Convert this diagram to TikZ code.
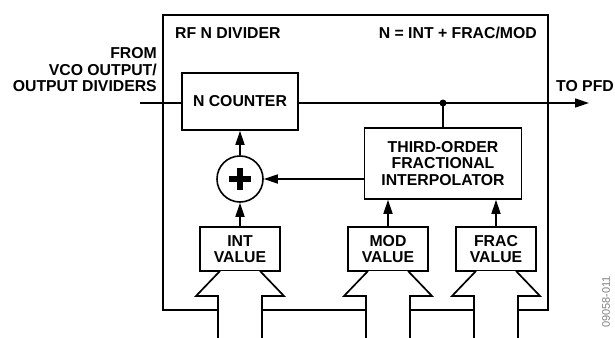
\documentclass[tikz,border=0pt]{standalone}
\usepackage{fontspec}
\setmainfont{Liberation Sans}
\usetikzlibrary{arrows.meta}

\tikzset{
  blk/.style={draw, line width=1.6pt, inner sep=0pt, align=center,
    font=\bfseries\fontsize{15.8}{16.5}\selectfont},
  lbl/.style={inner sep=0pt, font=\bfseries\fontsize{15.8}{16.5}\selectfont},
  sig/.style={line width=1.7pt},
  arr/.style={sig, -{Triangle[length=14pt,width=9pt]}},
}

\begin{document}
\begin{tikzpicture}[x=1pt,y=-1pt]
\useasboundingbox (0,0) rectangle (615,337);
% outer divider box
\draw[line width=2.6pt] (163,15) rectangle (548,310);
\node[lbl,anchor=base west] (title) at (175,39) {RF N DIVIDER};
\node[lbl,anchor=base east] (eqn) at (537,38) {N = INT + FRAC/MOD};
\node[lbl,align=right,anchor=east] (src) at (157,70) {FROM\\VCO OUTPUT/\\OUTPUT DIVIDERS};
\node[lbl,anchor=west] (dst) at (556,86) {TO PFD};
% blocks
\node[blk,minimum width=157pt,minimum height=71pt] (interp) at (443,163.5)
  {THIRD-ORDER\\FRACTIONAL\\INTERPOLATOR};
\node[blk,minimum width=116pt,minimum height=57pt] (ncnt) at (240,101.5) {N COUNTER};
\node[blk,minimum width=80pt,minimum height=44pt] (intv) at (240,249) {INT\\VALUE};
\node[blk,minimum width=80pt,minimum height=44pt] (modv) at (388,249) {MOD\\VALUE};
\node[blk,minimum width=80pt,minimum height=44pt] (fracv) at (496,249) {FRAC\\VALUE};
\node[draw,circle,line width=1.6pt,minimum size=46pt,inner sep=0pt] (sum) at (240,179) {};
\draw[line width=6pt] (229,179) -- (251,179);
\draw[line width=6pt] (240,168) -- (240,190);
% signal path
\coordinate (vco) at (140,103);
\coordinate (pfd) at (589,103);
\coordinate (tap) at (interp.north |- vco);
\draw[sig] (vco) -- (ncnt.west |- vco);
\draw[arr] (ncnt.east |- vco) -- (pfd);
\fill (tap) circle (3.5);
\draw[sig] (tap) -- (interp.north);
\draw[arr] (sum.east -| interp.west) -- (sum.east);
\draw[arr] (sum.north) -- (ncnt.south);
\draw[arr] (intv.north) -- (sum.south);
\draw[arr] (modv.north) -- (modv.north |- interp.south);
\draw[arr] (fracv.north) -- (fracv.north |- interp.south);
% bus inputs
\foreach \cx in {240,388,496}{
  \fill[white] (\cx-20,271) -- (\cx-44,296) -- (\cx-22,296) -- (\cx-22,338)
    -- (\cx+22,338) -- (\cx+22,296) -- (\cx+44,296) -- (\cx+20,271) -- cycle;
  \draw[sig] (\cx-22,338) -- (\cx-22,296) -- (\cx-44,296) -- (\cx-20,271);
  \draw[sig] (\cx+22,338) -- (\cx+22,296) -- (\cx+44,296) -- (\cx+20,271);
}
\node[rotate=90,text=gray,font=\fontsize{11}{11}\selectfont,inner sep=0pt] (fig) at (606,302) {09058-011};
\end{tikzpicture}
\end{document}
